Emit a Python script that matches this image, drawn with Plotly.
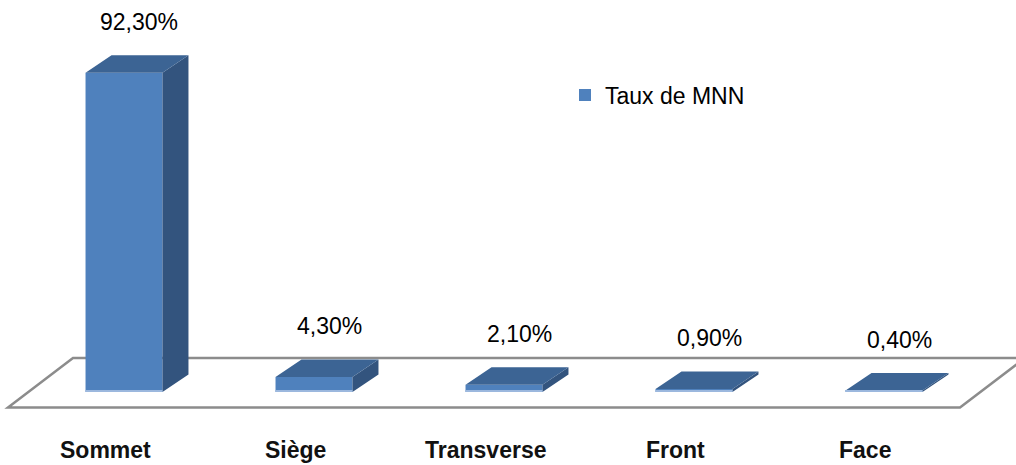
import plotly.graph_objects as go

# ---- data ----
categories = ["Sommet", "Siège", "Transverse", "Front", "Face"]
values = [92.3, 4.3, 2.1, 0.9, 0.4]
value_labels = ["92,30%", "4,30%", "2,10%", "0,90%", "0,40%"]
series_name = "Taux de MNN"

# ---- geometry / style ----
W, H = 1016, 465
PX_PER_CAT = 190.0          # pixels between category centres
PX_PER_UNIT = 3.46          # pixels per value unit
X0_PX, Y0_PX = 124.0, 392.0  # pixel of first category centre / value zero
BAR_W = 0.405               # bar width in category units
DEPTH_X = 26.0 / PX_PER_CAT  # 3D depth offset (category units)
DEPTH_Y = 17.5 / PX_PER_UNIT  # 3D depth offset (value units)

FRONT = "#4F81BD"
TOP = "#3C6494"
SIDE = "#33547E"
EDGE = "#9CB8DE"
FONT = "Liberation Sans"

x_range = [-X0_PX / PX_PER_CAT, (W - X0_PX) / PX_PER_CAT]
y_range = [-(H - Y0_PX) / PX_PER_UNIT, Y0_PX / PX_PER_UNIT]


def px_x(p):
    return (p - X0_PX) / PX_PER_CAT


def px_y(p):
    return (Y0_PX - p) / PX_PER_UNIT


xs = list(range(len(categories)))

fig = go.Figure()

# front faces
fig.add_trace(go.Bar(
    x=xs, y=values, width=BAR_W, marker=dict(color=FRONT, line=dict(width=0)),
    name=series_name, showlegend=True, hoverinfo="skip",
))

# top faces and side faces, derived from the values
top_x, top_y, side_x, side_y, edge_x, edge_y = [], [], [], [], [], []
for x, v in zip(xs, values):
    l, r = x - BAR_W / 2, x + BAR_W / 2
    top_x += [l, r, r + DEPTH_X, l + DEPTH_X, l, None]
    top_y += [v, v, v + DEPTH_Y, v + DEPTH_Y, v, None]
    side_x += [r, r + DEPTH_X, r + DEPTH_X, r, r, None]
    side_y += [0, DEPTH_Y, v + DEPTH_Y, v, 0, None]
    edge_x += [l, r, None]
    edge_y += [0.3, 0.3, None]

fig.add_trace(go.Scatter(x=side_x, y=side_y, mode="lines", fill="toself",
                         fillcolor=SIDE, line=dict(width=0, color=SIDE),
                         showlegend=False, hoverinfo="skip"))
fig.add_trace(go.Scatter(x=top_x, y=top_y, mode="lines", fill="toself",
                         fillcolor=TOP, line=dict(width=0, color=TOP),
                         showlegend=False, hoverinfo="skip"))
fig.add_trace(go.Scatter(x=edge_x, y=edge_y, mode="lines",
                         line=dict(width=2, color=EDGE),
                         showlegend=False, hoverinfo="skip"))

# floor (3D plane)
fx = [px_x(8), px_x(960), px_x(1025), px_x(73)]
fy = [px_y(407.5), px_y(407.5), px_y(358), px_y(358)]
path = "M {} {} L {} {} L {} {} L {} {} Z".format(
    fx[0], fy[0], fx[1], fy[1], fx[2], fy[2], fx[3], fy[3])
fig.add_shape(type="path", path=path, xref="x", yref="y", layer="below",
              fillcolor="white", line=dict(color="#8C8C8C", width=2.5))

# value labels
for x, v, t in zip(xs, values, value_labels):
    fig.add_annotation(x=x, y=v, text=t, showarrow=False, xref="x", yref="y",
                       xshift=15, yshift=51, yanchor="middle",
                       font=dict(family=FONT, size=23, color="#000000"))

# category labels
for x, c in zip(xs, categories):
    fig.add_annotation(x=x, y=1 - 450 / H, text="<b>" + c + "</b>",
                       showarrow=False, xref="x", yref="paper", xshift=-19,
                       yanchor="middle",
                       font=dict(family=FONT, size=23, color="#111111"))

fig.update_layout(
    width=W, height=H,
    margin=dict(l=0, r=0, t=0, b=0),
    paper_bgcolor="white", plot_bgcolor="white",
    barmode="overlay",
    xaxis=dict(range=x_range, visible=False, fixedrange=True),
    yaxis=dict(range=y_range, visible=False, fixedrange=True),
    legend=dict(x=(565) / W, y=1 - 95 / H, xanchor="left", yanchor="middle",
                bgcolor="rgba(0,0,0,0)",
                font=dict(family=FONT, size=23, color="#000000")),
    showlegend=True,
    font=dict(family=FONT),
)

fig.write_html("out.html",
               config={"displayModeBar": False},
               post_script="document.body.style.margin='0px';"
                           "document.body.style.overflow='hidden';")
